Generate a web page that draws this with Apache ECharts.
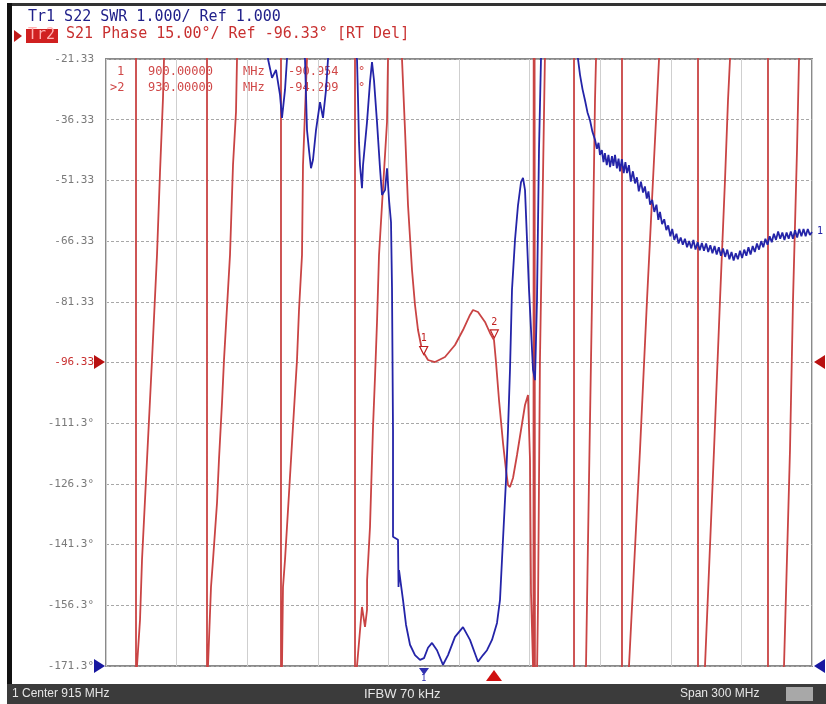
<!DOCTYPE html>
<html><head><meta charset="utf-8">
<script src="https://cdn.jsdelivr.net/npm/echarts@6/dist/echarts.min.js"></script>
<style>html,body{margin:0;padding:0;background:#fff}#c{width:826px;height:704px}</style>
</head><body><div id="c"></div>
<script>
// Frequency sweep (MHz)
const startMHz = 765, stopMHz = 1065;
// Left axis tick labels, top to bottom
const yTickLabels = ['-21.33','-36.33','-51.33','-66.33','-81.33','-96.33','-111.3°','-126.3°','-141.3°','-156.3°','-171.3°'];
const phaseMin = -171.33, phaseMax = -21.33;
const swrMin = 1, swrMax = 11;

// Tr2: S21 phase (MHz, degrees) - wrapped
const phaseTrace = [
 [765.0,60],[777.75,180],[777.75,-180],
 [778.17,-171.33],[779.45,-159.96],[780.3,-145.13],[782.42,-120.42],[783.7,-105.6],[784.55,-95.71],[786.67,-69.77],[787.95,-49.3],[789.22,-30.97],[789.65,-21.33],
 [807.92,180],[807.92,-180],
 [808.34,-171.33],[809.62,-151.81],[810.47,-145.13],[812.17,-131.05],[813.0,-120.42],[814.29,-106.34],[815.14,-95.71],[817.69,-69.77],[818.97,-47.52],[820.24,-34.43],[820.67,-21.33],
 [839.36,180],[839.36,-180],
 [839.79,-171.33],[840.21,-151.81],[841.06,-145.13],[842.34,-132.78],[844.04,-116.22],[845.31,-103.87],[846.16,-95.71],[847.01,-83.36],[848.29,-69.77],[848.71,-47.52],[849.56,-34.43],[850.41,-21.33],
 [870.81,180],[870.81,-180],
 [871.66,-171.33],[873.78,-156.75],[875.06,-161.69],[875.91,-157.49],[875.95,-150.08],[877.18,-136.98],[878.03,-120.42],[878.46,-112.27],[879.31,-99.92],[880.16,-86.32],[881.01,-69.77],[882.71,-53.21],[884.41,-36.9],[884.83,-21.33],
 [887.8,0],
 [890.78,-21.33],[892.06,-38.88],[893.33,-57.41],[895.03,-73.47],[896.3,-82.12],[897.58,-88.3],[899.28,-93.24],[901.83,-95.71],[904.8,-96.21],[909.05,-94.97],[913.3,-92.01],[916.7,-88.3],[919.67,-84.59],[920.95,-83.36],[923.07,-83.85],[926.05,-86.32],[928.17,-89.04],[929.87,-90.77],[930.72,-96.21],[932.0,-105.6],[933.7,-116.22],[934.97,-122.9],[935.82,-126.6],[936.67,-127.1],[937.95,-124.87],[939.65,-119.19],[941.35,-113.01],[943.05,-106.83],[944.32,-104.36],[945.17,-120.42],[945.6,-153.3],[946.45,-171.33],
 [946.6,-200],[946.9,200],[947.3,-200],
 [948.2,-171.33],[948.6,-155.0],[949.4,-95.71],[950.7,-50.0],[951.5,-21.33],
 [963.87,180],[963.87,-180],
 [968.97,-171.33],[970.24,-125.37],[971.52,-80.89],[972.79,-31.46],[973.22,-21.33],
 [984.26,180],[984.26,-180],
 [987.24,-171.33],[991.91,-117.95],[994.89,-80.89],[997.01,-56.17],[999.14,-31.46],[1000.0,-21.33],
 [1016.56,180],[1016.56,-180],
 [1019.53,-171.33],[1023.36,-117.95],[1025.91,-80.89],[1028.03,-51.23],[1029.31,-31.46],[1030.16,-21.33],
 [1046.3,180],[1046.3,-180],
 [1053.1,-171.33],[1055.65,-117.95],[1056.93,-80.89],[1058.63,-43.82],[1059.48,-21.33],
 [1065.0,60]
];

// Tr1: S22 SWR (MHz, SWR)
const swrTrace = [
 [765.0,14],[832.99,12],
 [833.84,11.0],[835.54,10.69],[837.24,10.82],[838.94,10.41],[839.79,10.03],[841.06,10.49],[841.91,11.0],[843.6,12],
 [849.56,11.0],[850.41,9.83],[851.26,9.5],[852.11,9.2],[852.96,9.34],[854.24,9.83],[855.94,10.29],[857.21,10.03],[858.49,10.49],[859.34,11.0],[862.0,12],
 [871.66,11.0],[872.08,10.36],[872.51,9.63],[872.93,9.25],[873.78,8.87],[874.21,9.25],[875.91,9.96],[877.18,10.62],[878.03,10.95],[878.88,10.65],[880.16,9.96],[881.43,9.2],[882.28,8.76],[883.56,8.84],[884.41,9.2],[885.26,8.68],[886.11,8.31],[886.53,7.23],[886.96,4.89],[886.96,3.13],[889.08,3.08],[889.3,2.3],[889.51,2.58],[891.2,2.09],[892.48,1.68],[894.18,1.35],[896.3,1.18],[898.43,1.1],[900.13,1.13],[901.83,1.3],[903.53,1.38],[905.65,1.26],[908.2,1.02],[910.33,1.18],[913.3,1.48],[916.7,1.64],[919.67,1.43],[923.07,1.07],[925.2,1.18],[926.9,1.26],[929.02,1.43],[931.15,1.71],[932.42,2.09],[933.27,2.75],[934.12,3.41],[934.97,4.06],[935.82,4.89],[936.67,5.88],[937.52,7.2],[938.8,8.02],[940.07,8.59],[941.35,8.97],[942.2,9.04],[943.05,8.84],[943.9,8.02],[944.75,7.2],[945.6,6.54],[946.45,5.88],[947.3,5.71],[948.14,7.03],[948.99,9.5],[949.84,11.0],[951.0,12],
 [962.0,12],[965.57,11.0],[966.42,10.74],[967.5,10.5],[968.54,10.32],[969.6,10.12],[970.67,9.99],[971.7,9.8],
 [972.8,9.67],[973.6,9.52],[974.3,9.62],[974.9,9.42],[975.7,9.5],[976.4,9.3],[977.0,9.45],[977.8,9.25],[978.5,9.42],[979.2,9.22],[980.0,9.4],[980.6,9.24],[981.3,9.42],[982.1,9.2],[982.8,9.36],[983.4,9.15],[984.2,9.35],[985.0,9.12],[985.7,9.3],[986.4,9.12],[987.2,9.25],[988.0,8.98],[988.9,9.15],[989.8,8.95],[990.6,9.05],[991.4,8.82],[992.3,8.98],[993.2,8.8],[994.0,8.9],[994.8,8.7],[995.5,8.82],[996.2,8.6],[997.1,8.68],[998.0,8.48],[998.9,8.6],[999.7,8.35],[1000.4,8.48],[1001.3,8.28],[1002.2,8.36],[1003.1,8.18],[1003.9,8.26],[1004.8,8.08],[1005.6,8.2],[1006.5,8.02],[1007.4,8.12],[1008.3,7.96],[1009.2,8.06],[1010.1,7.94],[1011.0,8.04],[1011.9,7.9],[1012.8,8.0],[1013.7,7.88],[1014.6,8.02],[1015.5,7.86],[1016.4,7.98],[1017.3,7.85],[1018.2,7.97],[1019.1,7.84],[1020.0,7.96],[1020.9,7.82],[1021.8,7.93],[1022.7,7.8],[1023.6,7.92],[1024.5,7.78],[1025.4,7.9],[1026.3,7.76],[1027.2,7.88],[1028.1,7.74],[1029.0,7.86],[1029.9,7.7],[1030.8,7.82],[1031.7,7.68],[1032.6,7.8],[1033.5,7.7],[1034.4,7.84],[1035.3,7.72],[1036.2,7.86],[1037.1,7.76],[1038.0,7.9],[1038.9,7.78],[1039.8,7.92],[1040.7,7.82],[1041.6,7.96],[1042.5,7.86],[1043.4,8.0],[1044.3,7.9],[1045.2,8.04],[1046.1,7.94],[1047.0,8.08],[1047.9,7.98],[1048.8,8.12],[1049.7,8.02],[1050.6,8.16],[1051.5,8.04],[1052.4,8.14],[1053.3,8.02],[1054.2,8.14],[1055.1,8.04],[1056.0,8.16],[1056.9,8.04],[1057.8,8.18],[1058.7,8.06],[1059.6,8.2],[1060.5,8.08],[1061.4,8.2],[1062.3,8.08],[1063.2,8.2],[1064.1,8.1],[1065.0,8.15]
];

// Markers
const markerFreqs = [900, 930];
const markerPhase = [-94.6, -90.5];
const markerLabels = ['1', '2'];
const markerTable = [
  ['1', '900.00000', 'MHz', '-90.954', '°'],
  ['>2', '930.00000', 'MHz', '-94.209', '°']
];
const header1 = 'Tr1 S22 SWR 1.000/ Ref 1.000';
const header2 = 'S21 Phase 15.00°/ Ref -96.33° [RT Del]';
const statusTexts = ['1 Center 915 MHz', 'IFBW 70 kHz', 'Span 300 MHz'];

const G = {left:106, top:59, width:706, height:607};
const chart = echarts.init(document.getElementById('c'), null, {renderer:'canvas'});
const mono = 'DejaVu Sans Mono';
const red = '#c94444', blue = '#2424a8';

const graphic = [
  {type:'rect', shape:{x:7,y:3,width:819,height:3}, style:{fill:'#333'}},
  {type:'rect', shape:{x:7,y:3,width:5,height:701}, style:{fill:'#111'}},
  {type:'text', x:28, y:10, style:{text:header1, font:'15px "'+mono+'"', fill:'#20208a'}},
  {type:'polygon', shape:{points:[[14,30],[22,36],[14,42]]}, style:{fill:'#c01818'}},
  {type:'rect', shape:{x:26,y:29,width:32,height:14}, style:{fill:'#d02020'}},
  {type:'text', x:28, y:28, style:{text:'Tr2', font:'15px "'+mono+'"', fill:'#ffb0b0'}},
  {type:'text', x:66, y:27, style:{text:header2, font:'15px "'+mono+'"', fill:'#c83030'}},
  // scale reference triangles
  {type:'polygon', shape:{points:[[94,355],[105,362],[94,369]]}, style:{fill:'#b81010'}},
  {type:'polygon', shape:{points:[[825,355],[814,362],[825,369]]}, style:{fill:'#b81010'}},
  {type:'polygon', shape:{points:[[94,659],[105,666],[94,673]]}, style:{fill:'#1818a0'}},
  {type:'polygon', shape:{points:[[825,659],[814,666],[825,673]]}, style:{fill:'#1818a0'}},
  // status bar
  {type:'rect', shape:{x:7,y:684,width:819,height:20}, style:{fill:'#3b3b3b'}},
  {type:'text', x:12, y:688, style:{text:statusTexts[0], font:'12px "Liberation Sans"', fill:'#e6e6e6'}},
  {type:'text', x:364, y:688, style:{text:statusTexts[1], font:'13px "Liberation Sans"', fill:'#e6e6e6'}},
  {type:'text', x:680, y:688, style:{text:statusTexts[2], font:'12px "Liberation Sans"', fill:'#e6e6e6'}},
  {type:'rect', shape:{x:786,y:687,width:27,height:14}, style:{fill:'#a8a8a8'}},
  // active marker indicator below the axis
  {type:'polygon', shape:{points:[[486,681],[494,670],[502,681]]}, style:{fill:'#d01010'}},
  {type:'polygon', shape:{points:[[419,668],[429,668],[424,675]]}, style:{fill:'#3030b0'}},
  {type:'text', x:421, y:674, style:{text:'1', font:'9px "'+mono+'"', fill:'#3030b0'}},
  {type:'text', x:817, y:226, style:{text:'1', font:'10px "'+mono+'"', fill:'#2424a8'}}
];
const colX = [0, 148, 243, 288, 358];
markerTable.forEach((row, i) => {
  const y = 66 + i*16;
  graphic.push({type:'text', x: (i===0?117:110), y:y, style:{text:row[0], font:'12px "'+mono+'"', fill:'#d04848'}});
  for (let k=1;k<row.length;k++) graphic.push({type:'text', x:colX[k], y:y, style:{text:row[k], font:'12px "'+mono+'"', fill:'#d04848'}});
});

chart.setOption({
  animation:false,
  backgroundColor:'#fff',
  grid:{left:G.left, top:G.top, width:G.width, height:G.height, show:true, borderColor:'#8a8a8a', borderWidth:2, backgroundColor:'#fff'},
  xAxis:[
    {type:'value', min:startMHz, max:stopMHz, show:false},
    {type:'value', min:0, max:10, interval:1, axisLine:{show:false}, axisTick:{show:false}, axisLabel:{show:false},
     splitLine:{show:true, lineStyle:{color:'#cfcfcf', width:1}}}
  ],
  yAxis:[
    {type:'value', min:0, max:10, interval:1, axisLine:{show:false}, axisTick:{show:false},
     axisLabel:{margin:12, fontFamily:mono, fontSize:11,
       formatter:(v)=>yTickLabels[10-Math.round(v)],
       color:(v)=> Math.round(v)===5 ? '#c83030' : '#7a7a7a'},
     splitLine:{show:true, lineStyle:{color:'#a8a8a8', width:1, type:[3,2]}}},
    {type:'value', min:phaseMin, max:phaseMax, show:false},
    {type:'value', min:swrMin, max:swrMax, show:false}
  ],
  series:[
    {type:'line', xAxisIndex:0, yAxisIndex:1, data:phaseTrace, showSymbol:false, clip:true, z:2,
     lineStyle:{color:red, width:1.8},
     markPoint:{symbol:'triangle', symbolSize:8, symbolRotate:180, symbolOffset:[0,-5],
       itemStyle:{color:'#fff', borderColor:'#c02020', borderWidth:1.2},
       label:{show:true, position:'top', distance:2, color:'#c02020', fontSize:10, fontFamily:mono, formatter:(p)=>p.name},
       data: markerFreqs.map((f,i)=>({name:markerLabels[i], coord:[f, markerPhase[i]]}))}},
    {type:'line', xAxisIndex:0, yAxisIndex:2, data:swrTrace, showSymbol:false, clip:true, z:3,
     lineStyle:{color:blue, width:1.8}}
  ],
  graphic: graphic
});
</script></body></html>
